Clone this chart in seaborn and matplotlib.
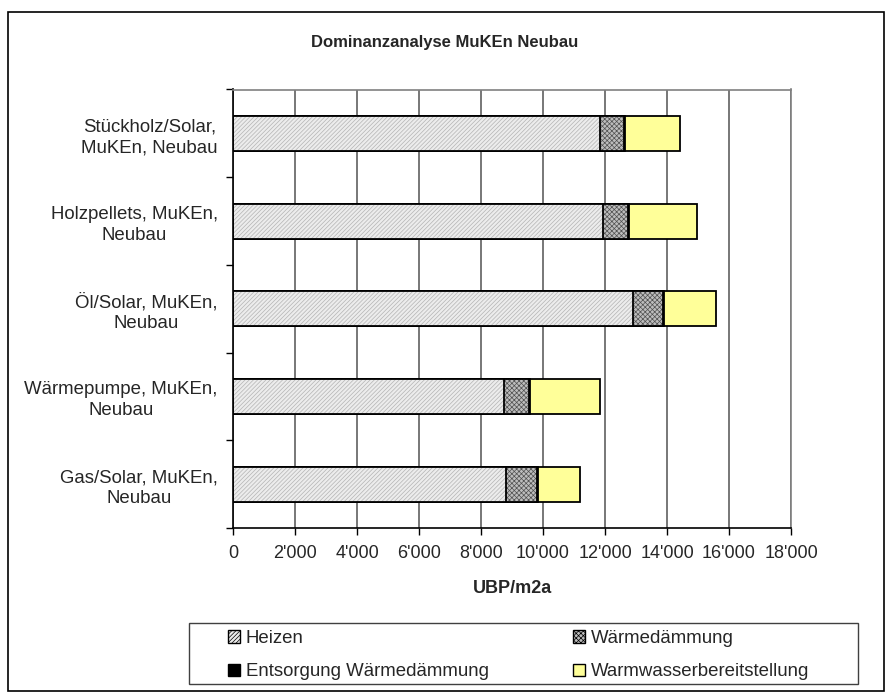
import matplotlib
matplotlib.use("Agg")
import matplotlib.pyplot as plt
from matplotlib.patches import Patch, Rectangle
from matplotlib.ticker import FuncFormatter, FixedLocator
import seaborn as sns
import pandas as pd
import numpy as np

categories = [
    "Stückholz/Solar,\nMuKEn, Neubau",
    "Holzpellets, MuKEn,\nNeubau",
    "Öl/Solar, MuKEn,\nNeubau",
    "Wärmepumpe, MuKEn,\nNeubau",
    "Gas/Solar, MuKEn,\nNeubau",
]
heizen = [11840, 11950, 12910, 8740, 8820]
waermedaemmung = [780, 800, 970, 800, 980]
entsorgung = [30, 30, 30, 30, 30]
warmwasser = [1770, 2180, 1670, 2270, 1360]
series_names = ["Heizen", "Wärmedämmung", "Entsorgung Wärmedämmung", "Warmwasserbereitstellung"]
x_ticks = list(range(0, 18001, 2000))

sns.set_style("white")
plt.rcParams["font.family"] = ["Liberation Sans", "DejaVu Sans"]
plt.rcParams["hatch.linewidth"] = 0.5

df = pd.DataFrame({
    "cat": categories,
    "Heizen": heizen,
    "Wärmedämmung": waermedaemmung,
    "Entsorgung Wärmedämmung": entsorgung,
    "Warmwasserbereitstellung": warmwasser,
})
cum = df[series_names].cumsum(axis=1)

styles = {
    "Heizen": dict(face="#ececec", hatch="////////", hcolor="#b4b4b4"),
    "Wärmedämmung": dict(face="#bdbdbd", hatch="xxxxxxx", hcolor="#505050"),
    "Entsorgung Wärmedämmung": dict(face="#000000", hatch=None, hcolor="#000000"),
    "Warmwasserbereitstellung": dict(face="#ffff99", hatch=None, hcolor="#ffff99"),
}

W, H = 890, 693
FS = 13.4
fig = plt.figure(figsize=(W / 100, H / 100), dpi=100)
ax = fig.add_axes([233 / W, 1 - 528 / H, (791 - 233) / W, (528 - 89.5) / H])
ax.set_axisbelow(True)

for name in reversed(series_names):
    st = styles[name]
    d = pd.DataFrame({"cat": categories, "v": cum[name]})
    n0 = len(ax.patches)
    sns.barplot(data=d, y="cat", x="v", orient="y", order=categories,
                color=st["face"], width=0.4, ax=ax, errorbar=None,
                edgecolor=st["hcolor"], linewidth=0, saturation=1)
    for p in ax.patches[n0:]:
        p.set_facecolor(st["face"])
        if st["hatch"]:
            p.set_hatch(st["hatch"])
    sns.barplot(data=d, y="cat", x="v", orient="y", order=categories,
                color="black", fill=False, width=0.4, ax=ax, errorbar=None,
                linewidth=1.3, saturation=1)

ax.set_xlim(0, 18000)
ax.set_ylim(4.5, -0.5)
ax.xaxis.set_major_locator(FixedLocator(x_ticks))
ax.xaxis.set_major_formatter(FuncFormatter(lambda v, p: f"{int(v):,}".replace(",", "'")))
ax.grid(axis="x", color="#606060", linewidth=1.2)
ax.grid(axis="y", visible=False)

ax.set_yticks(range(len(categories)))
ax.set_yticklabels(categories, fontsize=FS)
for lab in ax.get_yticklabels():
    lab.set_multialignment("center")
    lab.set_linespacing(1.3)
ax.yaxis.set_minor_locator(FixedLocator(np.arange(-0.5, len(categories), 1.0)))
ax.tick_params(axis="y", which="major", length=0, pad=11)
ax.tick_params(axis="y", which="minor", length=5, width=1.0, direction="out", left=True, color="black")
ax.tick_params(axis="x", which="major", length=5, width=1.0, direction="out", bottom=True, labelsize=13, pad=7, color="black")

ax.set_ylabel("")
ax.set_xlabel("UBP/m2a", fontsize=13, fontweight="bold", labelpad=13)

for s in ["left", "bottom"]:
    ax.spines[s].set_color("black")
    ax.spines[s].set_linewidth(1.2)
for s in ["top", "right"]:
    ax.spines[s].set_color("#808080")
    ax.spines[s].set_linewidth(1.2)

fig.text(0.5, 1 - 43 / H, "Dominanzanalyse MuKEn Neubau", ha="center", va="center",
         fontsize=12, fontweight="bold")

handles = {}
for name in series_names:
    st = styles[name]
    handles[name] = Patch(facecolor=st["face"], edgecolor="black", hatch=st["hatch"], linewidth=1.0, label=name)
order = ["Heizen", "Entsorgung Wärmedämmung", "Wärmedämmung", "Warmwasserbereitstellung"]
fpx = FS * 100 / 72
leg = fig.legend([handles[n] for n in order], order, ncol=2, loc="upper left",
                 bbox_to_anchor=(228 / W, 1 - 630 / H),
                 fontsize=FS, frameon=False,
                 handlelength=12 / fpx, handleheight=12 / fpx, handletextpad=6 / fpx,
                 borderaxespad=0, borderpad=0, labelspacing=0.88, columnspacing=84 / fpx)

fig.patches.append(Rectangle((189 / W, 1 - 684 / H), (858 - 189) / W, (684 - 623) / H,
                             transform=fig.transFigure, fill=False, edgecolor="#404040", linewidth=1.0))
fig.patches.append(Rectangle((8 / W, 1 - 691 / H), (884 - 8) / W, (691 - 12) / H,
                             transform=fig.transFigure, fill=False, edgecolor="black", linewidth=1.2))

fig.savefig("out.png", dpi=100)
